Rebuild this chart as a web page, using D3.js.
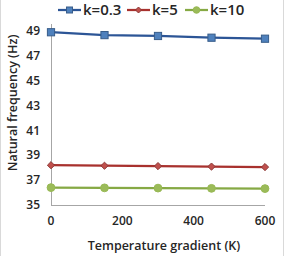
<!DOCTYPE html>
<html lang="en">
<head>
<meta charset="UTF-8">
<title>Natural frequency vs temperature gradient</title>
<script src="https://cdnjs.cloudflare.com/ajax/libs/d3/7.8.5/d3.min.js"></script>
<style>
    body { margin: 0; padding: 0; background: #fff; }
    svg { display: block; }
    text { font-family: "Open Sans", Arial, sans-serif; fill: #262626; }
</style>
</head>
<body>
<div id="chart"></div>
<script>
    const width = 285;
    const height = 256;

    const gradients = [0, 150, 300, 450, 600];
    const xTicks = [0, 200, 400, 600];
    const yTicks = [35, 37, 39, 41, 43, 45, 47, 49];
    const seriesNames = ["k=0.3", "k=5", "k=10"];
    const k03 = [48.9, 48.67, 48.6, 48.46, 48.38];
    const k5 = [38.2, 38.16, 38.13, 38.09, 38.05];
    const k10 = [36.4, 36.38, 36.36, 36.34, 36.32];

    const lineColors = ["#2c5596", "#a8312e", "#86a944"];
    const markerFill = ["#4f81bd", "#c0504d", "#9bbb59"];
    const markerStroke = ["#385d8a", "#8c3836", "#98b954"];

    const x = d3.scaleLinear().domain([0, 600]).range([51, 265]);
    const y = d3.scaleLinear().domain([35, 49]).range([205, 31]);

    const svg = d3.select("#chart").append("svg")
        .attr("width", width)
        .attr("height", height);

    // chart border (only sides visible)
    svg.append("line").attr("x1", 0.5).attr("x2", 0.5).attr("y1", 0).attr("y2", height)
        .attr("stroke", "#d9d9d9");
    svg.append("line").attr("x1", 283.5).attr("x2", 283.5).attr("y1", 0).attr("y2", height)
        .attr("stroke", "#d9d9d9");

    // axes
    svg.append("line")
        .attr("x1", x(0) + 0.5).attr("x2", x(0) + 0.5)
        .attr("y1", 24).attr("y2", y(35))
        .attr("stroke", "#a6a6a6");
    svg.append("line")
        .attr("x1", x(0)).attr("x2", x(600))
        .attr("y1", y(35) + 0.5).attr("y2", y(35) + 0.5)
        .attr("stroke", "#a6a6a6");

    svg.append("g").selectAll("text")
        .data(yTicks).enter().append("text")
        .attr("x", 40)
        .attr("y", d => y(d))
        .attr("dy", "0.35em")
        .attr("text-anchor", "end")
        .attr("font-size", 12)
        .attr("font-weight", 600)
        .text(d => d);

    svg.append("g").selectAll("text")
        .data(xTicks).enter().append("text")
        .attr("x", d => x(d))
        .attr("y", 225)
        .attr("text-anchor", "middle")
        .attr("font-size", 12)
        .attr("font-weight", 600)
        .text(d => d);

    svg.append("text")
        .attr("x", 164).attr("y", 250)
        .attr("text-anchor", "middle")
        .attr("font-size", 12.5)
        .attr("font-weight", 600)
        .text("Temperature gradient (K)");

    svg.append("text")
        .attr("transform", "translate(17,103) rotate(-90)")
        .attr("text-anchor", "middle")
        .attr("font-size", 12.5)
        .attr("font-weight", 600)
        .text("Natural frequency (Hz)");

    // series
    const allSeries = [k03, k5, k10];
    const line = d3.line().x((d, i) => x(gradients[i])).y(d => y(d));

    function drawMarker(g, i, cx, cy, s) {
        if (i === 0) {
            g.append("rect").attr("x", cx - s).attr("y", cy - s).attr("width", 2 * s).attr("height", 2 * s)
                .attr("fill", markerFill[i]).attr("stroke", markerStroke[i]);
        } else if (i === 1) {
            g.append("path").attr("d", `M${cx},${cy - s}L${cx + s},${cy}L${cx},${cy + s}L${cx - s},${cy}Z`)
                .attr("fill", markerFill[i]).attr("stroke", markerStroke[i]);
        } else {
            g.append("circle").attr("cx", cx).attr("cy", cy).attr("r", s + 0.3)
                .attr("fill", markerFill[i]).attr("stroke", markerStroke[i]);
        }
    }

    allSeries.forEach((vals, i) => {
        const g = svg.append("g");
        g.append("path")
            .datum(vals)
            .attr("d", line)
            .attr("fill", "none")
            .attr("stroke", lineColors[i])
            .attr("stroke-width", 2.25);
        vals.forEach((v, j) => drawMarker(g, i, x(gradients[j]), y(v), 3.6));
    });

    // legend
    const legendX = [58, 127, 185];
    seriesNames.forEach((name, i) => {
        const g = svg.append("g");
        const lx = legendX[i];
        g.append("line").attr("x1", lx).attr("x2", lx + 23).attr("y1", 10).attr("y2", 10)
            .attr("stroke", lineColors[i]).attr("stroke-width", 2.25);
        drawMarker(g, i, lx + 11.5, 10, 3);
        g.append("text").attr("x", lx + 25).attr("y", 10).attr("dy", "0.35em")
            .attr("font-size", 15).attr("font-weight", 600)
            .text(name);
    });
</script>
</body>
</html>
